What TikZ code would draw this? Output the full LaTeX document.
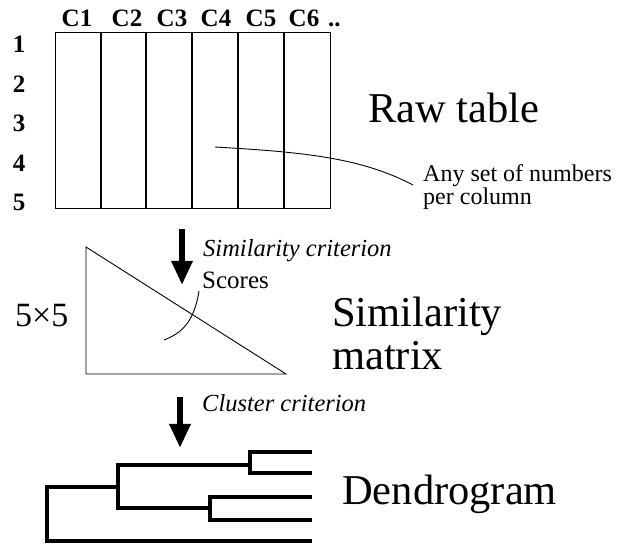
\documentclass[tikz,border=0pt]{standalone}
\usepackage{fontspec}
\setmainfont{Liberation Serif}
\usetikzlibrary{arrows.meta}
\begin{document}
\begin{tikzpicture}[x=1pt,y=-1pt,
  hdr/.style={inner sep=0pt, anchor=base, font=\fontsize{25}{28}\selectfont\bfseries},
  big/.style={inner sep=0pt, anchor=base west, font=\fontsize{42.5}{48}\selectfont},
  note/.style={inner sep=0pt, anchor=base west, font=\fontsize{24}{28}\selectfont},
  crit/.style={inner sep=0pt, anchor=base west, font=\fontsize{24.5}{28}\selectfont\itshape},
  thin/.style={line width=0.9pt},
  divider/.style={line width=2pt},
  flow/.style={line width=6pt, -{Triangle[width=20pt,length=24pt]}},
  tree/.style={line width=4.5pt, line join=miter},
]
\useasboundingbox (0,0) rectangle (625,545);

% ---- raw table -------------------------------------------------------
\node[hdr] (c1) at (77,27) {C1};
\node[hdr] (c2) at (127,27) {C2};
\node[hdr] (c3) at (172,27) {C3};
\node[hdr] (c4) at (216,27) {C4};
\node[hdr] (c5) at (261,27) {C5};
\node[hdr] (c6) at (304,27) {C6};
\node[hdr, anchor=base west] (cdots) at (328,27) {..};

\node[hdr] (r1) at (19,53) {1};
\node[hdr] (r2) at (19,93) {2};
\node[hdr] (r3) at (19,132) {3};
\node[hdr] (r4) at (19,172) {4};
\node[hdr] (r5) at (19,211) {5};

\draw[thin] (55,32) rectangle (330,208);
\foreach \x in {101,146,192,238,284}
  \draw[divider] (\x,32) -- (\x,208);

\node[big] (raw) at (368,123) {Raw table};

\node[note] (anyset) at (423,182) {Any set of numbers};
\node[note] (percol) at (423,205) {per column};
\coordinate (cellpt) at (215,147);
\coordinate (anyend) at (413,185);
\draw[thin] (cellpt) .. controls (300,152) and (360,157) .. (anyend);

% ---- similarity step -------------------------------------------------
\coordinate (a1top) at (182,229);
\coordinate (a1tip) at (182,285);
\draw[flow] (a1top) -- (a1tip);
\node[crit] (simcrit) at (203,257) {Similarity criterion};
\node[note, font=\fontsize{25}{28}\selectfont] (scores) at (202,289) {Scores};

\coordinate (t1) at (86,247);
\coordinate (t2) at (86,374);
\coordinate (t3) at (286,374);
\draw[thin] (t1) -- (t2) -- (t3) -- cycle;

\coordinate (scoretop) at (199,291);
\coordinate (scoreend) at (164,340);
\draw[thin] (scoretop) .. controls (194,322) and (182,333) .. (scoreend);

\node[inner sep=0pt, anchor=base west, font=\fontsize{34}{38}\selectfont] (dim) at (15,327) {5×5};

\node[big] (simil) at (332,327) {Similarity};
\node[big] (matrix) at (332,370) {matrix};

% ---- clustering step -------------------------------------------------
\coordinate (a2top) at (180,397);
\coordinate (a2tip) at (180,448);
\draw[flow] (a2top) -- (a2tip);
\node[crit] (clcrit) at (202,412) {Cluster criterion};

% dendrogram
\draw[tree] (312,541) -- (47,541) -- (47,487) -- (118,487);
\draw[tree] (250,465) -| (118,508) -- (210,508);
\draw[tree] (312,452) -| (250,473) -- (312,473);
\draw[tree] (312,497) -| (210,520) -- (312,520);

\node[big] (dendro) at (342,505) {Dendrogram};
\end{tikzpicture}
\end{document}
